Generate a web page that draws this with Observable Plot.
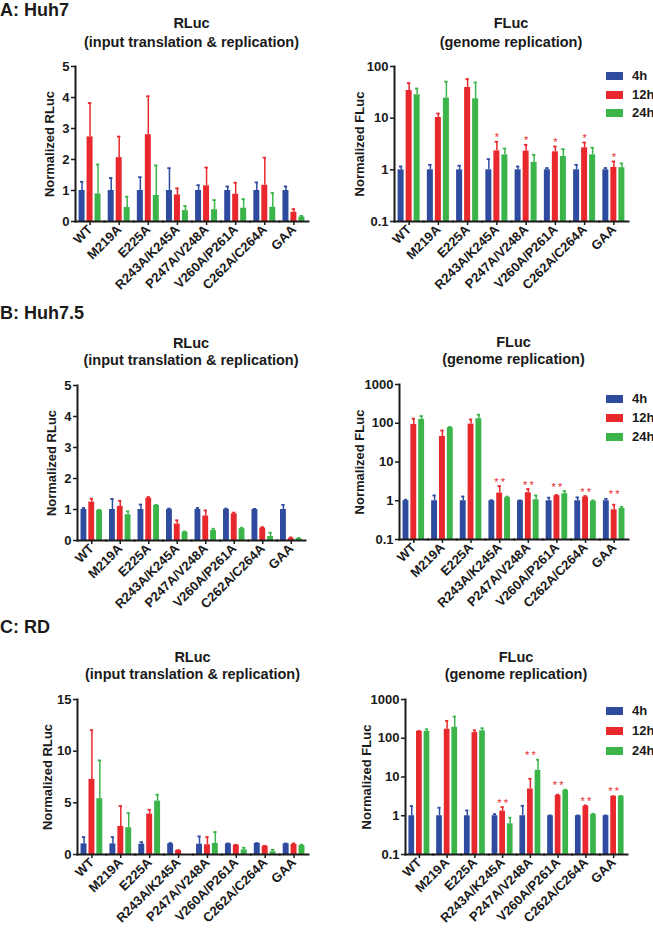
<!DOCTYPE html>
<html>
<head>
<meta charset="utf-8">
<script src="https://cdn.jsdelivr.net/npm/d3@7"></script>
<script src="https://cdn.jsdelivr.net/npm/@observablehq/plot@0.6"></script>
<style>
  html, body { margin: 0; padding: 0; background: #fff; }
  #root { position: relative; width: 653px; height: 928px; overflow: hidden; background: #fff;
          font-family: 'Liberation Sans', Arial, Helvetica, sans-serif; font-weight: bold; color: #1a1a1a; }
  .abs { position: absolute; white-space: nowrap; }
  .panel-label { font-size: 18px; line-height: 20px; }
  .title { text-align: center; font-size: 14.5px; }
  .wrap { position: absolute; overflow: hidden; }
  .wrap svg { overflow: hidden; }
  .leg-row { position: absolute; font-size: 13px; line-height: 14px; }
  .sw { position: absolute; width: 17px; height: 8px; }
</style>
</head>
<body>
<div id="root"></div>
<script>
// ---------- categories / series ----------
const mutations = ["WT", "M219A", "E225A", "R243A/K245A", "P247A/V248A", "V260A/P261A", "C262A/C264A", "GAA"];
const times = ["4h", "12h", "24h"];
const timeColors = ["#2e4b9f", "#e8282c", "#3bb44a"];

// ---------- A: Huh7 ----------
const huh7RlucMean  = [[1, 1, 1, 1, 1, 1, 1, 1],
                       [2.73, 2.06, 2.80, 0.86, 1.15, 0.88, 1.17, 0.30],
                       [0.89, 0.45, 0.84, 0.35, 0.38, 0.43, 0.46, 0.14]];
const huh7RlucUpper = [[1.28, 1.40, 1.43, 1.72, 1.17, 1.13, 1.26, 1.13],
                       [3.82, 2.74, 4.04, 1.07, 1.74, 1.25, 2.06, 0.40],
                       [1.84, 0.80, 1.81, 0.50, 0.69, 0.72, 0.92, 0.18]];
const huh7FlucMean  = [[1, 1, 1, 1, 1, 1, 1, 1],
                       [34.3, 10.3, 39.2, 2.33, 2.30, 2.23, 2.67, 1.11],
                       [28.3, 24.4, 23.7, 1.95, 1.39, 1.81, 1.95, 1.10]];
const huh7FlucUpper = [[1.16, 1.25, 1.20, 1.61, 1.16, 1.08, 1.25, 1.08],
                       [47.6, 12.3, 56.9, 3.48, 3.05, 2.83, 3.38, 1.45],
                       [37.5, 51.0, 49.0, 2.59, 1.95, 2.51, 2.68, 1.33]];
const huh7FlucSig   = ["", "", "", "*", "*", "*", "*", "*"];

// ---------- B: Huh7.5 ----------
const huh75RlucMean  = [[1, 1, 1, 1, 1, 1, 1, 1],
                        [1.24, 1.10, 1.36, 0.53, 0.79, 0.86, 0.40, 0.07],
                        [0.97, 0.83, 1.13, 0.27, 0.32, 0.38, 0.13, 0.06]];
const huh75RlucUpper = [[1.05, 1.34, 1.16, 1.03, 1.05, 1.03, 1.02, 1.15],
                        [1.35, 1.28, 1.40, 0.65, 0.97, 0.90, 0.43, 0.10],
                        [0.99, 0.94, 1.15, 0.29, 0.38, 0.41, 0.25, 0.08]];
const huh75FlucMean  = [[1, 1, 1, 1, 1, 1, 1, 1],
                        [93, 45.7, 95, 1.58, 1.61, 1.35, 1.24, 0.585],
                        [126, 76.6, 131, 1.20, 1.06, 1.52, 0.97, 0.63]];
const huh75FlucUpper = [[1.06, 1.37, 1.29, 1.03, 1.02, 1.20, 1.22, 1.12],
                        [131, 65, 125, 2.39, 2.00, 1.40, 1.32, 0.79],
                        [153, 80, 166, 1.28, 1.37, 1.78, 1.02, 0.70]];
const huh75FlucSig   = ["", "", "", "**", "**", "**", "**", "**"];

// ---------- C: RD ----------
const rdRlucMean  = [[1.03, 1.03, 1.00, 1.03, 1.00, 1.03, 1.07, 1.03],
                     [7.27, 2.72, 3.91, 0.39, 0.94, 0.90, 0.81, 0.97],
                     [5.40, 2.59, 5.17, null, 1.07, 0.45, 0.26, 0.87]];
const rdRlucUpper = [[1.68, 1.68, 1.20, 1.10, 1.75, 1.07, 1.10, 1.07],
                     [12.03, 4.69, 4.33, 0.42, 1.68, 0.94, 0.84, 1.07],
                     [9.10, 4.00, 5.79, null, 2.17, 0.65, 0.45, 0.94]];
const rdFlucMean  = [[1, 1, 1, 1, 1, 1, 1, 1],
                     [151, 171, 140, 1.32, 4.9, 3.36, 1.78, 3.16],
                     [151, 192, 155, 0.62, 14.9, 4.5, 1.08, 3.20]];
const rdFlucUpper = [[1.78, 1.61, 1.37, 1.10, 1.81, 1.02, 1.02, 1.02],
                     [154, 281, 160, 1.67, 9.0, 3.5, 1.85, 3.2],
                     [170, 363, 181, 0.89, 28, 4.7, 1.13, 3.25]];
const rdFlucSig   = ["", "", "", "**", "**", "**", "**", "**"];

// ---------- axis ticks ----------
const rlucTicks5  = [0, 1, 2, 3, 4, 5];
const rlucTicks15 = [0, 5, 10, 15];
const flucTicks100  = [0.1, 1, 10, 100];
const flucTicks1000 = [0.1, 1, 10, 100, 1000];

// ---------- helpers ----------
const FONT = "'Liberation Sans', Arial, Helvetica, sans-serif";

function toRows(mean, upper) {
  const rows = [];
  times.forEach((t, i) => mutations.forEach((m, j) => {
    rows.push({mut: m, time: t, value: mean[i][j], hi: upper[i][j]});
  }));
  return rows;
}

function sigRows(upper, sig) {
  if (!sig) return [];
  return mutations.map((m, j) => ({
    mut: m, time: "12h", sig: sig[j],
    top: d3.max(upper, s => s[j])
  })).filter(d => d.sig);
}

function chart(c) {
  const rows = toRows(c.mean, c.upper);
  const stars = sigRows(c.upper, c.sig);
  const ticks = c.ticks;
  const base = ticks[0];
  return Plot.plot({
    width: c.width, height: c.height,
    marginLeft: c.ml, marginRight: c.mr, marginTop: c.mt, marginBottom: c.mb,
    style: {fontFamily: FONT, fontSize: "13px", fontWeight: "bold", color: "#1a1a1a", background: "transparent", overflow: "hidden"},
    fx: {domain: mutations, padding: 0, round: false},
    x: {domain: times, paddingInner: 0.25, paddingOuter: 0.45, round: false, axis: null},
    y: {type: c.log ? "log" : "linear", domain: [ticks[0], ticks[ticks.length - 1]]},
    color: {domain: times, range: timeColors},
    marks: [
      Plot.barY(rows, {fx: "mut", x: "time", y1: base, y2: "value", fill: "time"}),
      Plot.ruleX(rows, {fx: "mut", x: "time", y1: "value", y2: "hi", stroke: "time", strokeWidth: 1.5}),
      Plot.tickY(rows, {fx: "mut", x: "time", y: "hi", stroke: "time", strokeWidth: 1.8, insetLeft: 1.3, insetRight: 1.3}),
      Plot.text(stars, {fx: "mut", x: "time", y: "top", text: d => d.sig.split("").join("\u2009"),
                        fill: "#e8282c", fontSize: 11, fontWeight: "normal", dy: -4}),
      Plot.axisY({ticks, tickFormat: d => String(d), tickSize: 4, tickPadding: 2, strokeWidth: 1.5,
                  label: c.yLabel, labelAnchor: "center", labelOffset: c.labelOffset, labelArrow: "none"}),
      Plot.axisFx({anchor: "bottom", tickRotate: -45, tickSize: 4, tickPadding: 2, strokeWidth: 1.5, label: null}),
      Plot.frame({anchor: "left", facetAnchor: "left", stroke: "#1a1a1a", strokeWidth: 2}),
      Plot.frame({anchor: "bottom", stroke: "#1a1a1a", strokeWidth: 2})
    ]
  });
}

// ---------- page layout ----------
const root = document.getElementById("root");

function addDiv(cls, left, top, html, extra) {
  const d = document.createElement("div");
  d.className = "abs " + cls;
  d.style.left = left + "px";
  d.style.top = top + "px";
  d.innerHTML = html;
  if (extra) Object.assign(d.style, extra);
  root.appendChild(d);
  return d;
}

const charts = [
  // A
  {mean: huh7RlucMean, upper: huh7RlucUpper, ticks: rlucTicks5, log: false, yLabel: "Normalized RLuc",
   left: 0, top: 56, width: 320, height: 250, ml: 75, mr: 12, mt: 10, mb: 85, labelOffset: 31,
   title: "RLuc", sub: "(input translation &amp; replication)", titleY: 23, lh: 19},
  {mean: huh7FlucMean, upper: huh7FlucUpper, sig: huh7FlucSig, ticks: flucTicks100, log: true, yLabel: "Normalized FLuc",
   left: 320, top: 56, width: 320, height: 250, ml: 74, mr: 12, mt: 10, mb: 85, labelOffset: 40,
   title: "FLuc", sub: "(genome replication)", titleY: 23, lh: 19, legend: [76, 95, 113]},
  // B
  {mean: huh75RlucMean, upper: huh75RlucUpper, ticks: rlucTicks5, log: false, yLabel: "Normalized RLuc",
   left: 0, top: 375, width: 320, height: 236, ml: 77, mr: 15, mt: 10, mb: 71, labelOffset: 31,
   title: "RLuc", sub: "(input translation &amp; replication)", titleY: 343, lh: 17},
  {mean: huh75FlucMean, upper: huh75FlucUpper, sig: huh75FlucSig, ticks: flucTicks1000, log: true, yLabel: "Normalized FLuc",
   left: 320, top: 374, width: 320, height: 237, ml: 79, mr: 12, mt: 10, mb: 72, labelOffset: 45,
   title: "FLuc", sub: "(genome replication)", titleY: 342, lh: 17, legend: [399, 418, 437]},
  // C
  {mean: rdRlucMean, upper: rdRlucUpper, ticks: rlucTicks15, log: false, yLabel: "Normalized RLuc",
   left: 0, top: 689, width: 320, height: 239, ml: 77, mr: 12, mt: 10, mb: 74, labelOffset: 35,
   title: "RLuc", sub: "(input translation &amp; replication)", titleY: 657, lh: 17},
  {mean: rdFlucMean, upper: rdFlucUpper, sig: rdFlucSig, ticks: flucTicks1000, log: true, yLabel: "Normalized FLuc",
   left: 320, top: 689, width: 320, height: 239, ml: 85, mr: 13, mt: 10, mb: 74, labelOffset: 44,
   title: "FLuc", sub: "(genome replication)", titleY: 657, lh: 17, legend: [711, 731, 751]}
];

addDiv("panel-label", 0, 0, "A: Huh7");
addDiv("panel-label", 0, 303, "B: Huh7.5");
addDiv("panel-label", 0, 617, "C: RD");

for (const c of charts) {
  const wrap = document.createElement("div");
  wrap.className = "wrap";
  wrap.style.left = c.left + "px";
  wrap.style.top = c.top + "px";
  wrap.style.width = c.width + "px";
  wrap.style.height = c.height + "px";
  wrap.appendChild(chart(c));
  root.appendChild(wrap);

  const fw = c.width - c.ml - c.mr;
  addDiv("title", c.left + c.ml, c.titleY - c.lh / 2, c.title + "<br>" + c.sub,
         {width: fw + "px", lineHeight: c.lh + "px"});

  if (c.legend) {
    times.forEach((t, i) => {
      const y = c.legend[i];
      const sw = document.createElement("div");
      sw.className = "sw";
      sw.style.left = "606px";
      sw.style.top = (y - 4) + "px";
      sw.style.background = timeColors[i];
      root.appendChild(sw);
      addDiv("leg-row", 632, y - 7, t);
    });
  }
}
</script>
</body>
</html>
